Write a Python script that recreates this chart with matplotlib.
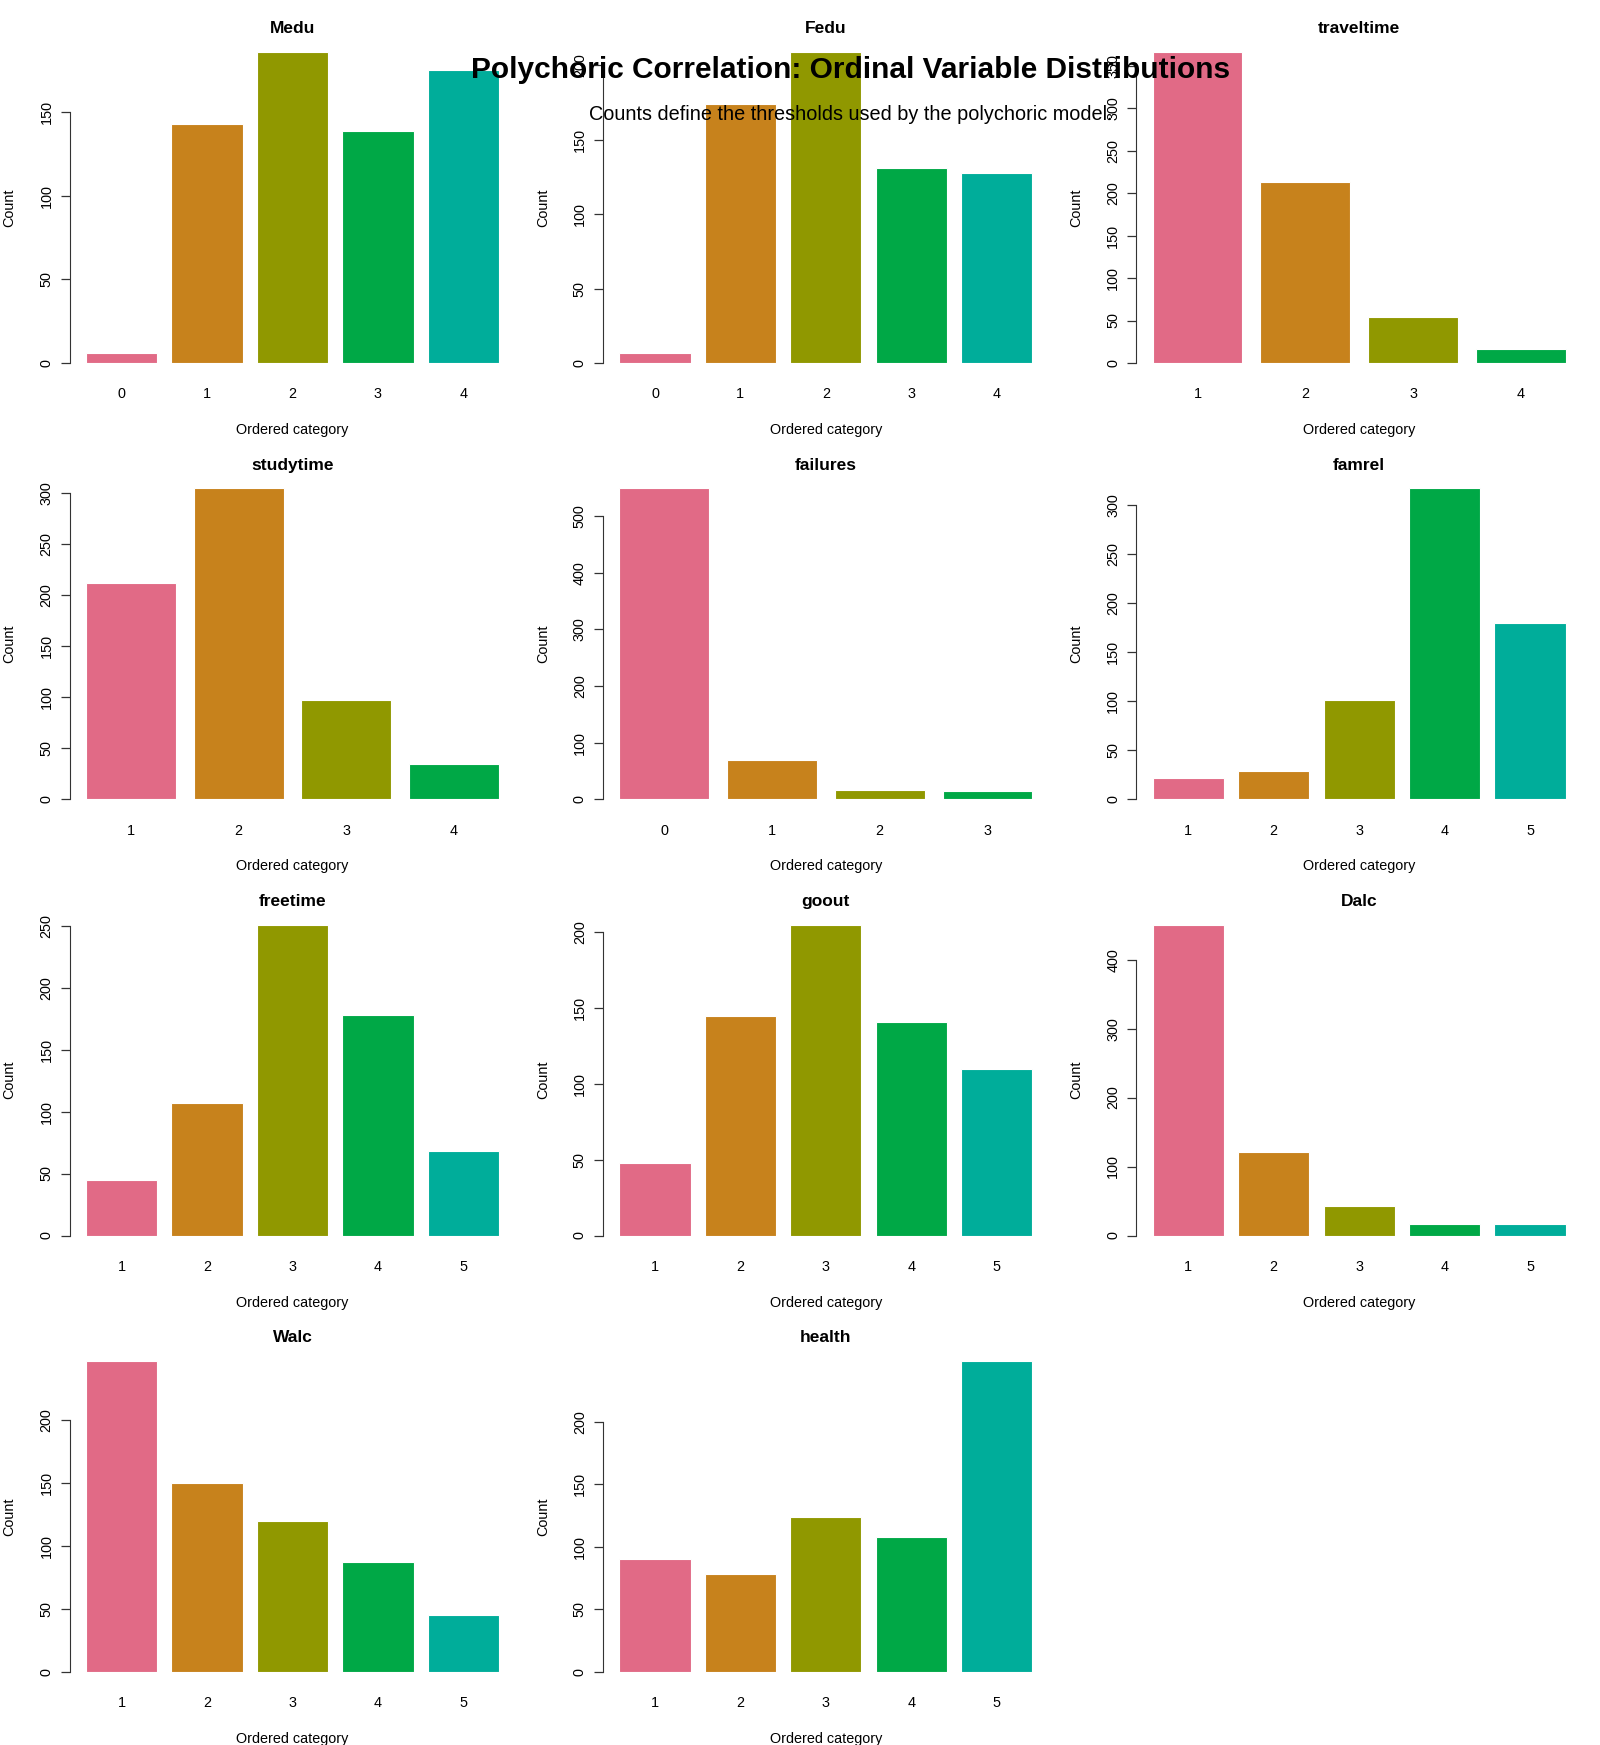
import numpy as np
import matplotlib
matplotlib.use("Agg")
import matplotlib.pyplot as plt
from matplotlib.ticker import MaxNLocator

plt.rcParams['font.family'] = ['Liberation Sans', 'DejaVu Sans']

# counts per ordinal variable (student data, n = 649)
variables = ["Medu", "Fedu", "traveltime", "studytime", "failures", "famrel",
             "freetime", "goout", "Dalc", "Walc", "health"]
categories = {
    "Medu": ["0", "1", "2", "3", "4"],
    "Fedu": ["0", "1", "2", "3", "4"],
    "traveltime": ["1", "2", "3", "4"],
    "studytime": ["1", "2", "3", "4"],
    "failures": ["0", "1", "2", "3"],
    "famrel": ["1", "2", "3", "4", "5"],
    "freetime": ["1", "2", "3", "4", "5"],
    "goout": ["1", "2", "3", "4", "5"],
    "Dalc": ["1", "2", "3", "4", "5"],
    "Walc": ["1", "2", "3", "4", "5"],
    "health": ["1", "2", "3", "4", "5"],
}
medu = [6, 143, 186, 139, 175]
fedu = [7, 174, 209, 131, 128]
traveltime = [366, 213, 54, 16]
studytime = [212, 305, 97, 35]
failures = [549, 70, 16, 14]
famrel = [22, 29, 101, 317, 180]
freetime = [45, 107, 251, 178, 68]
goout = [48, 145, 205, 141, 110]
dalc = [451, 121, 43, 17, 17]
walc = [247, 150, 120, 87, 45]
health = [90, 78, 124, 108, 249]
counts = [medu, fedu, traveltime, studytime, failures, famrel,
          freetime, goout, dalc, walc, health]

palette = ["#E16A86", "#C7821C", "#909800", "#00A846", "#00AD9A"]

W, H = 1600, 1745
fig = plt.figure(figsize=(W / 100, H / 100), dpi=100)

col_w, row_h = W / 3, H / 4
ax_left, ax_top, ax_w, ax_h = 69.5, 52, 446, 311

for k, (name, vals) in enumerate(zip(variables, counts)):
    r, c = divmod(k, 3)
    x0 = c * col_w + ax_left
    y0 = r * row_h + ax_top
    ax = fig.add_axes([x0 / W, 1 - (y0 + ax_h) / H, ax_w / W, ax_h / H])

    n = len(vals)
    # R barplot layout: width 1, space 0.2
    pos = 0.7 + 1.2 * np.arange(n)
    ax.bar(pos, vals, width=1.0, color=palette[:n], edgecolor="white", linewidth=0.8)
    span = 1.2 * n - 0.2
    ax.set_xlim(0.2 - 0.04 * span, 0.2 + span + 0.04 * span)
    ax.set_ylim(0, max(vals))

    ax.yaxis.set_major_locator(MaxNLocator(nbins=8, steps=[1, 2, 5, 10]))
    ticks = [t for t in ax.get_yticks() if 0 <= t <= max(vals)]
    ax.set_yticks(ticks)
    ax.set_yticklabels([f"{int(t)}" for t in ticks], rotation=90, va="center")
    for s in ["top", "right", "bottom"]:
        ax.spines[s].set_visible(False)
    ax.spines["left"].set_bounds(0, ticks[-1])
    ax.spines["left"].set_color("#333333")
    ax.tick_params(axis="y", length=6.5, width=0.9, color="#333333",
                   labelsize=10.4, pad=5)

    ax.set_xticks(pos)
    ax.set_xticklabels(categories[name])
    ax.tick_params(axis="x", length=0, labelsize=10.4, pad=17.5)

    ax.text(0.5, 1 + 23 / ax_h, name, transform=ax.transAxes, ha="center",
            va="center", fontsize=12.5, fontweight="bold")
    ax.text(0.5, -67 / ax_h, "Ordered category", transform=ax.transAxes,
            ha="center", va="center", fontsize=10.4)
    ax.text(-60 / ax_w, 0.5, "Count", transform=ax.transAxes, rotation=90,
            ha="center", va="center", fontsize=10.4)

fig.text(851 / W, 1 - 70 / H, "Polychoric Correlation: Ordinal Variable Distributions",
         ha="center", va="center", fontsize=21.5, fontweight="bold")
fig.text(851 / W, 1 - 115 / H, "Counts define the thresholds used by the polychoric model.",
         ha="center", va="center", fontsize=14.3)

fig.savefig("out.png", dpi=100)
